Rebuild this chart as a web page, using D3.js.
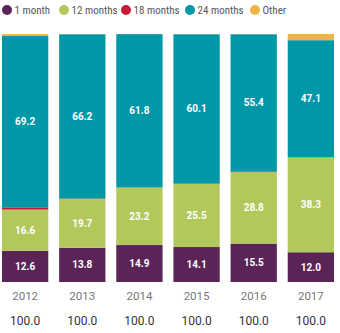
<!DOCTYPE html>
<html><head><meta charset="utf-8">
<script src="https://cdn.jsdelivr.net/npm/d3@7/dist/d3.min.js"></script>
<style>body{margin:0;background:#fff}svg{display:block}</style>
</head><body><svg id="c" width="340" height="333"></svg>
<script>
const years = ["2012","2013","2014","2015","2016","2017"];
const seriesNames = ["1 month","12 months","18 months","24 months","Other"];
const oneMonth = [12.6, 13.8, 14.9, 14.1, 15.5, 12.0];
const twelveMonths = [16.6, 19.7, 23.2, 25.5, 28.8, 38.3];
const eighteenMonths = [0.9, 0.2, 0.05, 0.2, 0.2, 0.1];
const twentyFourMonths = [69.2, 66.2, 61.8, 60.1, 55.4, 47.1];
const other = [0.7, 0.1, 0.05, 0.1, 0.1, 2.5];
const totals = ["100.0","100.0","100.0","100.0","100.0","100.0"];
const colors = ["#5a2456","#b2c85a","#c81937","#0097a7","#efb443"];
const showLabel = [true, true, false, true, false];

const rows = years.map((y,i)=>({year:y, "1 month":oneMonth[i], "12 months":twelveMonths[i],
  "18 months":eighteenMonths[i], "24 months":twentyFourMonths[i], "Other":other[i]}));
const stack = d3.stack().keys(seriesNames)(rows);

const svg = d3.select("#c");
const x = d3.scaleBand().domain(years).range([2,334]).paddingInner(0.19).paddingOuter(0);
const y = d3.scaleLinear().domain([0,100]).range([282,34]);

const g = svg.append("g");
stack.forEach((s,si)=>{
  g.selectAll(null).data(s).enter().append("rect")
    .attr("x", d=>x(d.data.year)).attr("width", x.bandwidth())
    .attr("y", d=>y(d[1])).attr("height", d=>y(d[0])-y(d[1]))
    .attr("fill", colors[si]);
  if(showLabel[si]){
    g.selectAll(null).data(s).enter().append("text")
      .attr("x", d=>x(d.data.year)+x.bandwidth()/2)
      .attr("y", d=>(y(d[0])+y(d[1]))/2)
      .attr("dy","0.35em").attr("text-anchor","middle")
      .attr("fill","#fff").attr("font-family","Roboto, sans-serif")
      .attr("font-weight","bold").attr("font-size","10px")
      .text(d=>(d[1]-d[0]).toFixed(1));
  }
});

// year axis
const ax = svg.append("g").attr("transform","translate(0,282)")
  .call(d3.axisBottom(x).tickSize(0).tickPadding(10));
ax.select(".domain").remove();
ax.selectAll("text").attr("font-family","Roboto, sans-serif").attr("font-size","11.5px").attr("fill","#777");

// totals row
svg.append("g").selectAll("text").data(years).enter().append("text")
  .attr("x", d=>x(d)+x.bandwidth()/2).attr("y",321).attr("dy","0.35em")
  .attr("text-anchor","middle").attr("font-family","Roboto, sans-serif")
  .attr("font-size","12px").attr("fill","#333")
  .text((d,i)=>totals[i]);

// legend
const legX = [7, 64, 126, 190, 255];
const leg = svg.append("g").selectAll("g").data(seriesNames).enter().append("g")
  .attr("transform",(d,i)=>`translate(${legX[i]},10)`);
leg.append("circle").attr("r",5).attr("fill",(d,i)=>colors[i]);
leg.append("text").attr("x",7.5).attr("dy","0.35em")
  .attr("font-family","'Liberation Sans Narrow', 'Roboto Condensed', Roboto, sans-serif")
  .attr("font-size","11px").attr("fill","#555").text(d=>d);
</script></body></html>
